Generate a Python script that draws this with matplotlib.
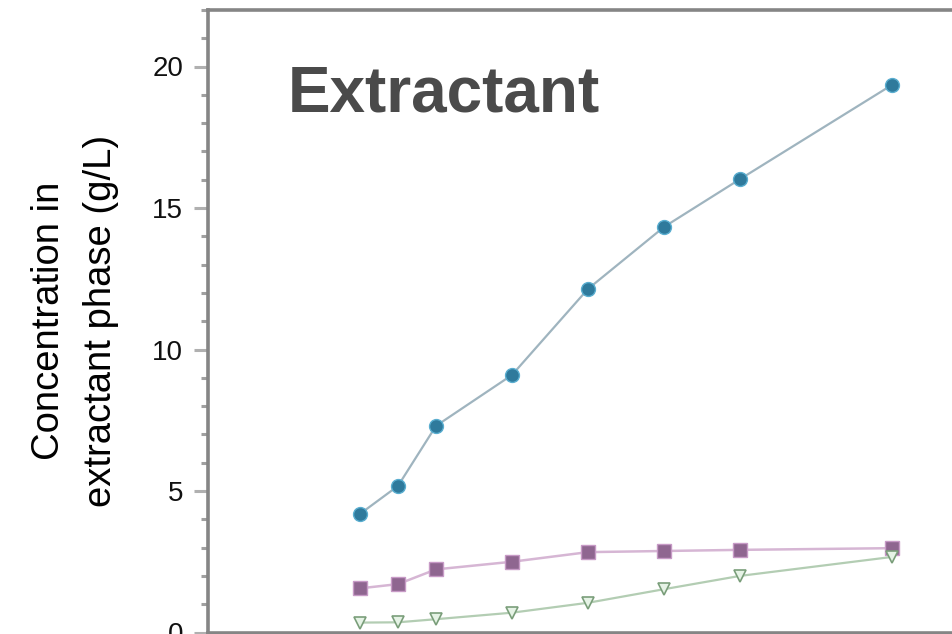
import matplotlib
matplotlib.use("Agg")
import matplotlib.pyplot as plt
from matplotlib.ticker import MultipleLocator

plt.rcParams['font.family'] = ['Liberation Sans', 'DejaVu Sans']

# Sampling points (x) and concentrations in extractant phase (g/L)
x_vals = [1, 1.5, 2, 3, 4, 5, 6, 8]
blue_series = [4.19, 5.18, 7.30, 9.10, 12.14, 14.33, 16.02, 19.35]
purple_series = [1.56, 1.71, 2.23, 2.50, 2.84, 2.88, 2.92, 2.98]
green_series = [0.35, 0.36, 0.47, 0.70, 1.05, 1.53, 2.00, 2.67]

y_ticks = [0, 5, 10, 15, 20]
title_text = "Extractant"
y_label = "Concentration in\nextractant phase (g/L)"

W, H = 952, 634
fig = plt.figure(figsize=(W / 100, H / 100), dpi=100)

# axes extends past the right and bottom figure edges
x_min, x_max = -1, 10
y_min, y_max = 0, 22
px_per_x = 76.0
px_per_y = 28.3
left_px = 208
bottom_px = H - 632.5
ax = fig.add_axes([left_px / W, bottom_px / H,
                   (x_max - x_min) * px_per_x / W,
                   (y_max - y_min) * px_per_y / H])
ax.set_xlim(x_min, x_max)
ax.set_ylim(y_min, y_max)

ax.plot(x_vals, blue_series, color='#9fb4bf', lw=1.6, marker='o', ms=10,
        mfc='#2f7a9c', mec='#5aaed0', mew=1.0, zorder=3)
ax.plot(x_vals, purple_series, color='#d6b6d4', lw=1.8, marker='s', ms=10,
        mfc='#8f6690', mec='#c79ac6', mew=1.0, zorder=3)
ax.plot(x_vals, green_series, color='#b3cdb3', lw=1.6, marker='v', ms=8,
        mfc='#e6f3e6', mec='#7a9e7a', mew=1.2, zorder=3)

spine_col = '#858585'
for side in ['left', 'top', 'bottom', 'right']:
    ax.spines[side].set_color(spine_col)
    ax.spines[side].set_linewidth(2.6)

ax.set_yticks(y_ticks)
ax.yaxis.set_minor_locator(MultipleLocator(1))
ax.tick_params(axis='y', which='major', direction='out', length=10, width=2.2,
               color='#b0b0b0', labelsize=20, pad=8, labelcolor='#111111')
ax.tick_params(axis='y', which='minor', direction='out', length=5, width=2.2,
               color='#a0a0a0')
ax.tick_params(axis='x', which='both', bottom=False, labelbottom=False)

ax.set_ylabel(y_label, fontsize=27.5, linespacing=1.55, labelpad=24)

fig.text(288 / W, 1 - 94 / H, title_text, fontsize=46, fontweight='bold',
         color='#4a4a4a', ha='left', va='center')

fig.savefig('out.png', dpi=100)
